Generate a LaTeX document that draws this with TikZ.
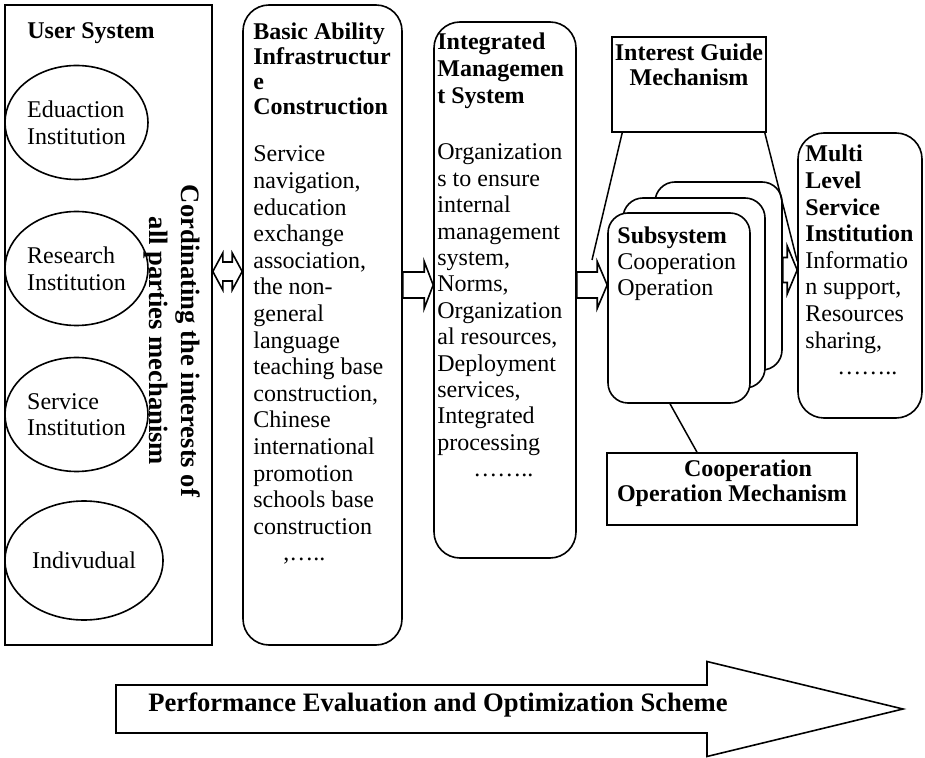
\documentclass[tikz,border=0pt]{standalone}
\usepackage{fontspec}
\setmainfont{Liberation Serif}
\usetikzlibrary{calc,shapes.geometric}

\tikzset{
  plainbox/.style={draw,line width=0.8pt,inner sep=0pt},
  roundbox/.style={plainbox,rounded corners=13pt},
  subbox/.style={plainbox,rounded corners=10pt,fill=white},
  inst/.style={plainbox,ellipse,align=flush left},
  headtxt/.style={inner sep=0pt,anchor=base west,text width=100pt,align=flush left,font=\bfseries\fontsize{12}{12.5}\selectfont},
  bodytxt/.style={inner sep=0pt,anchor=base west,text width=100pt,align=flush left,font=\fontsize{12}{13.3}\selectfont},
  blockline/.style={draw,line width=0.8pt,fill=white,line join=miter},
  tieline/.style={draw,line width=0.75pt}
}

% block arrow: tail, tip, shaft half height, head half height, head length
\newcommand{\blockarr}[5]{%
  \draw[blockline] ($(#1)+(0,-#3)$) -- ($(#2)+(-#5,-#3)$) -- ($(#2)+(-#5,-#4)$) -- (#2)
    -- ($(#2)+(-#5,#4)$) -- ($(#2)+(-#5,#3)$) -- ($(#1)+(0,#3)$) -- cycle;}
% block arrow with two heads: left tip, right tip, same sizes
\newcommand{\blockdarr}[5]{%
  \draw[blockline] (#1) -- ($(#1)+(#5,-#4)$) -- ($(#1)+(#5,-#3)$) -- ($(#2)+(-#5,-#3)$)
    -- ($(#2)+(-#5,-#4)$) -- (#2) -- ($(#2)+(-#5,#4)$) -- ($(#2)+(-#5,#3)$)
    -- ($(#1)+(#5,#3)$) -- ($(#1)+(#5,#4)$) -- cycle;}

\begin{document}
\begin{tikzpicture}[x=0.5pt,y=-0.5pt,font=\fontsize{12}{13.3}\selectfont]
\useasboundingbox (0,0) rectangle (925,758);

% user system
\node[plainbox,minimum width=103.5pt,minimum height=320pt] (user) at (108.5,325) {};
\node[headtxt] (usertxt) at (27,39) {User System};
\foreach \nm/\cx/\cy/\w/\h/\txt in {edu/76.5/122.5/71.5pt/57pt/{Eduaction\\Institution},
    res/76.5/268.5/71.5pt/57pt/{Research\\Institution},
    serv/76.5/414.5/71.5pt/57pt/{Service\\Institution},
    indiv/84/560.5/79pt/59.5pt/{Indivudual}}
  {\node[inst,minimum width=\w,minimum height=\h] (\nm) at (\cx,\cy) {\txt};}
\node[rotate=-90,align=flush center,inner sep=0pt,font=\bfseries\fontsize{13.3}{16}\selectfont] (coord) at (172.5,341)
  {Cordinating the interests of\\all parties mechanism};

% basic ability
\node[roundbox,minimum width=79.5pt,minimum height=320pt] (basic) at (322.5,325) {};
\node[headtxt] (basichead) at (253,40) {Basic Ability\\Infrastructur\\e\\Construction};
\node[bodytxt] (basicbody) at (253,162) {Service\\navigation,\\education\\exchange\\association,\\the non-\\general\\language\\teaching base\\construction,\\Chinese\\international\\promotion\\schools base\\construction\\\hspace*{15pt},…..};

% integrated management
\node[roundbox,minimum width=71pt,minimum height=268pt] (integ) at (505,290) {};
\node[headtxt,font=\bfseries\fontsize{12}{13.5}\selectfont] (integhead) at (437,50) {Integrated\\Managemen\\t System};
\node[bodytxt,font=\fontsize{12}{13.2}\selectfont] (integbody) at (437,160) {Organization\\s to ensure\\internal\\management\\system,\\Norms,\\Organization\\al resources,\\Deployment\\services,\\Integrated\\processing\\\hspace*{18pt}……..};

% mechanisms and subsystems
\node[plainbox,minimum width=77pt,minimum height=47.5pt] (guide) at (689,84.5) {};
\node[headtxt,anchor=base,text width=90pt,align=flush center] (guidetxt) at (689,61) {Interest Guide\\Mechanism};
\node[subbox,minimum width=63.5pt,minimum height=94pt] (back) at (718.5,276) {};
\node[subbox,minimum width=71pt,minimum height=95pt] (middle) at (694,293) {};
\node[subbox,minimum width=71pt,minimum height=95pt] (front) at (679,308) {};
\node[bodytxt,font=\fontsize{12}{13}\selectfont] (fronttxt) at (617,244) {\textbf{Subsystem}\\Cooperation\\Operation};
\node[plainbox,minimum width=125pt,minimum height=36pt] (coop) at (732,489) {};
\node[headtxt,anchor=base,text width=130pt,align=flush center] (cooptxt) at (732,476) {\hspace*{16pt}Cooperation\\Operation Mechanism};

% multi level service
\node[roundbox,minimum width=62pt,minimum height=142.5pt] (multi) at (860,275.5) {};
\node[bodytxt] (multitxt) at (805,162) {\textbf{Multi}\\\textbf{Level}\\\textbf{Service}\\\textbf{Institution}\\Informatio\\n support,\\Resources\\sharing,\\\hspace*{16pt}……..};

% block arrows
\coordinate (lvla) at (0,271.5);
\coordinate (lvlb) at (0,285);
\coordinate (lvlc) at (0,270);
\coordinate (dl) at (user.east |- lvla);
\coordinate (dr) at (basic.west |- lvla);
\coordinate (ba) at (basic.east |- lvlb);
\coordinate (ia) at (integ.west |- lvlb);
\coordinate (ib) at (integ.east |- lvlb);
\coordinate (sa) at (front.west |- lvlb);
\coordinate (sb) at (back.east |- lvlc);
\coordinate (ma) at (multi.west |- lvlc);
\blockdarr{dl}{dr}{9.5}{18.5}{10}
\blockarr{ba}{ia}{13}{23.5}{9}
\blockarr{ib}{sa}{13}{23.5}{10}
\blockarr{sb}{ma}{12.5}{24}{10}

% mechanism lines
\coordinate (guideend) at (592,260);
\draw[tieline] ([xshift=5.5pt]guide.south west) -- (guideend);
\draw[tieline] ([xshift=-1pt]guide.south east) -- ([yshift=-64.5pt]multi.north west);
\draw[tieline] ([xshift=-4.5pt]front.south) -- ([xshift=-17.5pt]coop.north);

% evaluation arrow
\coordinate (perfl) at (116,709);
\coordinate (perfr) at (903,709);
\blockarr{perfl}{perfr}{24}{47.5}{196}
\node[inner sep=0pt,anchor=base west,font=\bfseries\fontsize{13.3}{16}\selectfont] (perftxt) at (148,711)
  {Performance Evaluation and Optimization Scheme};
\end{tikzpicture}
\end{document}
